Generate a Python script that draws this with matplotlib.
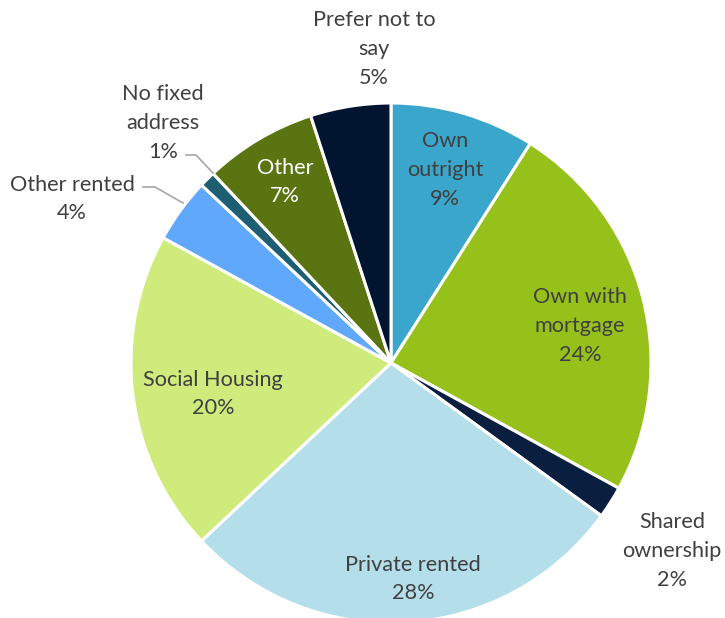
import matplotlib.pyplot as plt

# housing tenure shares, clockwise from 12 o'clock
tenures = ['Own outright', 'Own with mortgage', 'Shared ownership', 'Private rented',
           'Social Housing', 'Other rented', 'No fixed address', 'Other', 'Prefer not to say']
shares = [9, 24, 2, 28, 20, 4, 1, 7, 5]
label_text = ['Own\noutright', 'Own with\nmortgage', 'Shared\nownership', 'Private rented',
              'Social Housing', 'Other rented', 'No fixed\naddress', 'Other', 'Prefer not to\nsay']
colors = ['#3AA6CC', '#95C11A', '#0A1E40', '#B4DEEA', '#CEEB7C',
          '#5FA8FC', '#1D5E73', '#5B7412', '#011530']

plt.rcParams['font.family'] = ['Lato', 'DejaVu Sans']

fig = plt.figure(figsize=(7.25, 6.18), dpi=100)
ax = fig.add_axes([0, 0, 1, 1])

cx, cy, r = 391, 618 - 363, 260
ax.pie(shares, colors=colors, startangle=90, counterclock=False,
       center=(cx, cy), radius=r,
       wedgeprops=dict(edgecolor='white', linewidth=2.2))
# pie() resets the limits, so set pixel-space limits afterwards
ax.set_xlim(0, 725)
ax.set_ylim(0, 618)
ax.axis('off')

grey = '#404040'
fs = 15.6

def lab(i, x, y, color=grey, ha='center'):
    txt = label_text[i] + '\n' + f'{shares[i]}%'
    ax.text(x, 618 - y, txt, ha=ha, va='center', color=color, fontsize=fs,
            linespacing=1.55)

lab(0, 445, 170)
lab(1, 580, 326)
lab(2, 672, 551)
lab(3, 413, 579)
lab(4, 213, 394)
lab(7, 285, 182, color='white')
lab(8, 374, 49)
lab(6, 163, 123)

# Other rented label sits left with its own layout
ax.text(72, 618 - 185, label_text[5], ha='center', va='center', color=grey, fontsize=fs)
ax.text(72, 618 - 213, f'{shares[5]}%', ha='center', va='center', color=grey, fontsize=fs)

# leader lines for the small outside slices
lc = '#A6A6A6'
ax.plot([186, 196, 213], [618 - 155, 618 - 155, 618 - 173], color=lc, lw=1.2)
ax.plot([143, 155, 183], [618 - 187, 618 - 187, 618 - 203], color=lc, lw=1.2)

fig.savefig('out.png', dpi=100)
